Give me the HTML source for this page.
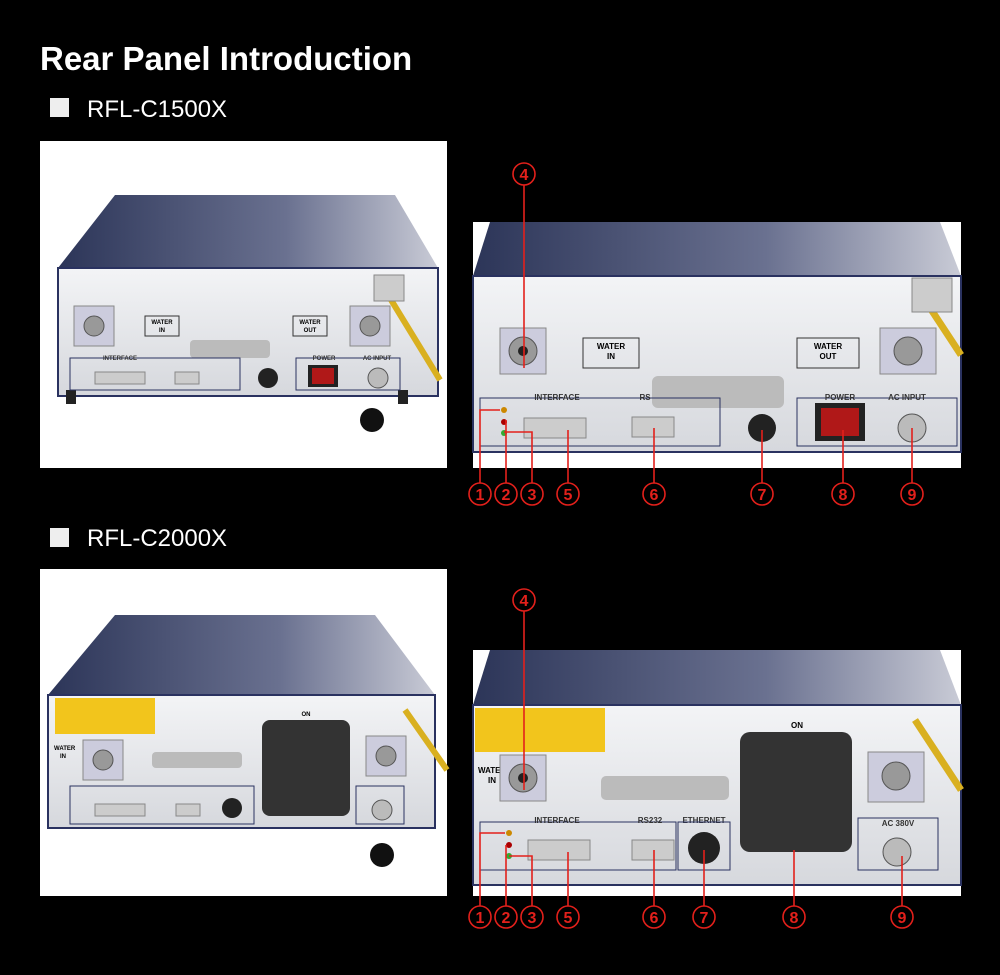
<!DOCTYPE html>
<html><head><meta charset="utf-8"><style>
body{margin:0;background:#000;width:1000px;height:975px;overflow:hidden;font-family:"Liberation Sans",sans-serif}
svg{position:absolute;left:0;top:0}
</style></head><body>
<svg width="1000" height="975" viewBox="0 0 1000 975" font-family="Liberation Sans, sans-serif">
<defs>
<linearGradient id="top" x1="0" y1="0" x2="1" y2="0"><stop offset="0" stop-color="#2c3558"/><stop offset="0.6" stop-color="#6a7190"/><stop offset="1" stop-color="#c9cbd6"/></linearGradient>
<linearGradient id="face" x1="0" y1="0" x2="0" y2="1"><stop offset="0" stop-color="#f3f4f6"/><stop offset="1" stop-color="#d6d8dd"/></linearGradient>
</defs>
<text x="40" y="70" fill="#fff" font-size="33" font-weight="bold">Rear Panel Introduction</text>
<rect x="50" y="98" width="19" height="19" fill="#eee"/>
<text x="87" y="117" fill="#fff" font-size="24">RFL-C1500X</text>
<rect x="50" y="528" width="19" height="19" fill="#eee"/>
<text x="87" y="546" fill="#fff" font-size="24">RFL-C2000X</text>

<!-- image 1 -->
<rect x="40" y="141" width="407" height="327" fill="#fff"/>
<polygon points="115,195 395,195 438,268 58,268" fill="url(#top)"/>
<rect x="58" y="268" width="380" height="128" fill="url(#face)" stroke="#2a3260" stroke-width="2"/>
<rect x="66" y="390" width="10" height="14" fill="#222"/><rect x="398" y="390" width="10" height="14" fill="#222"/>
<rect x="74" y="306" width="40" height="40" fill="#ccd" stroke="#888"/><circle cx="94" cy="326" r="10" fill="#999" stroke="#555"/>
<rect x="350" y="306" width="40" height="40" fill="#ccd" stroke="#888"/><circle cx="370" cy="326" r="10" fill="#999" stroke="#555"/>
<rect x="145" y="316" width="34" height="20" fill="none" stroke="#333"/><text x="162" y="324" font-size="6" text-anchor="middle" font-weight="bold">WATER</text><text x="162" y="332" font-size="6" text-anchor="middle" font-weight="bold">IN</text>
<rect x="293" y="316" width="34" height="20" fill="none" stroke="#333"/><text x="310" y="324" font-size="6" text-anchor="middle" font-weight="bold">WATER</text><text x="310" y="332" font-size="6" text-anchor="middle" font-weight="bold">OUT</text>
<rect x="190" y="340" width="80" height="18" rx="4" fill="#bbb"/>
<rect x="70" y="358" width="170" height="32" fill="none" stroke="#2a3260"/>
<text x="120" y="360" font-size="6" font-weight="bold" fill="#333" text-anchor="middle">INTERFACE</text>
<rect x="95" y="372" width="50" height="12" fill="#ccc" stroke="#888"/><rect x="175" y="372" width="24" height="12" fill="#ccc" stroke="#888"/>
<circle cx="268" cy="378" r="10" fill="#222"/>
<rect x="296" y="358" width="104" height="32" fill="none" stroke="#2a3260"/>
<text x="324" y="360" font-size="6" font-weight="bold" fill="#333" text-anchor="middle">POWER</text>
<text x="377" y="360" font-size="6" font-weight="bold" fill="#333" text-anchor="middle">AC INPUT</text>
<rect x="308" y="365" width="30" height="22" fill="#222"/><rect x="312" y="368" width="22" height="16" fill="#b01818"/>
<circle cx="378" cy="378" r="10" fill="#bbb" stroke="#555"/>
<line x1="385" y1="290" x2="440" y2="380" stroke="#d9b020" stroke-width="6"/>
<circle cx="372" cy="420" r="12" fill="#111"/>
<rect x="374" y="275" width="30" height="26" fill="#ccc" stroke="#888"/>

<!-- image 2 -->
<rect x="473" y="222" width="488" height="246" fill="#fff"/>
<polygon points="490,222 940,222 961,276 473,276" fill="url(#top)"/>
<rect x="473" y="276" width="488" height="176" fill="url(#face)" stroke="#2a3260" stroke-width="2"/>
<rect x="500" y="328" width="46" height="46" fill="#ccd" stroke="#888"/><circle cx="523" cy="351" r="14" fill="#999" stroke="#555"/><circle cx="523" cy="351" r="5" fill="#222"/>
<rect x="880" y="328" width="56" height="46" fill="#ccd" stroke="#888"/><circle cx="908" cy="351" r="14" fill="#999" stroke="#555"/>
<rect x="583" y="338" width="56" height="30" fill="none" stroke="#333"/><text x="611" y="349" font-size="8" text-anchor="middle" font-weight="bold">WATER</text><text x="611" y="359" font-size="8" text-anchor="middle" font-weight="bold">IN</text>
<rect x="797" y="338" width="62" height="30" fill="none" stroke="#333"/><text x="828" y="349" font-size="8" text-anchor="middle" font-weight="bold">WATER</text><text x="828" y="359" font-size="8" text-anchor="middle" font-weight="bold">OUT</text>
<rect x="652" y="376" width="132" height="32" rx="6" fill="#bbb"/>
<rect x="480" y="398" width="240" height="48" fill="none" stroke="#2a3260"/>
<text x="557" y="400" font-size="8" text-anchor="middle" font-weight="bold" fill="#333">INTERFACE</text>
<text x="645" y="400" font-size="8" text-anchor="middle" font-weight="bold" fill="#333">RS</text>
<circle cx="504" cy="410" r="3" fill="#c80"/><circle cx="504" cy="422" r="3" fill="#a00"/><circle cx="504" cy="433" r="3" fill="#3a3"/>
<rect x="524" y="418" width="62" height="20" fill="#ccc" stroke="#888"/><rect x="632" y="417" width="42" height="20" fill="#ccc" stroke="#888"/>
<circle cx="762" cy="428" r="14" fill="#222"/>
<rect x="797" y="398" width="160" height="48" fill="none" stroke="#2a3260"/>
<text x="840" y="400" font-size="8" text-anchor="middle" font-weight="bold" fill="#333">POWER</text>
<text x="907" y="400" font-size="8" text-anchor="middle" font-weight="bold" fill="#333">AC INPUT</text>
<rect x="815" y="403" width="50" height="38" fill="#222"/><rect x="821" y="408" width="38" height="28" fill="#b01818"/>
<circle cx="912" cy="428" r="14" fill="#bbb" stroke="#555"/>
<line x1="915" y1="285" x2="961" y2="355" stroke="#d9b020" stroke-width="7"/>
<rect x="912" y="278" width="40" height="34" fill="#ccc" stroke="#888"/>

<!-- image 3 -->
<rect x="40" y="569" width="407" height="327" fill="#fff"/>
<polygon points="115,615 375,615 435,695 48,695" fill="url(#top)"/>
<rect x="48" y="695" width="387" height="133" fill="url(#face)" stroke="#2a3260" stroke-width="2"/>
<rect x="55" y="698" width="100" height="36" fill="#f2c51c"/>
<text x="306" y="716" font-size="6" font-weight="bold" text-anchor="middle">ON</text>
<rect x="262" y="720" width="88" height="96" rx="8" fill="#333"/>
<text x="54" y="750" font-size="6" font-weight="bold">WATER</text><text x="60" y="758" font-size="6" font-weight="bold">IN</text>
<rect x="83" y="740" width="40" height="40" fill="#ccd" stroke="#888"/><circle cx="103" cy="760" r="10" fill="#999" stroke="#555"/>
<rect x="366" y="736" width="40" height="40" fill="#ccd" stroke="#888"/><circle cx="386" cy="756" r="10" fill="#999" stroke="#555"/>
<rect x="152" y="752" width="90" height="16" rx="4" fill="#bbb"/>
<rect x="70" y="786" width="184" height="38" fill="none" stroke="#2a3260"/>
<rect x="95" y="804" width="50" height="12" fill="#ccc" stroke="#888"/><rect x="176" y="804" width="24" height="12" fill="#ccc" stroke="#888"/>
<circle cx="232" cy="808" r="10" fill="#222"/>
<rect x="356" y="786" width="48" height="38" fill="none" stroke="#2a3260"/>
<circle cx="382" cy="810" r="10" fill="#bbb" stroke="#555"/>
<circle cx="382" cy="855" r="12" fill="#111"/>
<line x1="405" y1="710" x2="447" y2="770" stroke="#d9b020" stroke-width="6"/>

<!-- image 4 -->
<rect x="473" y="650" width="488" height="246" fill="#fff"/>
<polygon points="490,650 940,650 961,705 473,705" fill="url(#top)"/>
<rect x="473" y="705" width="488" height="180" fill="url(#face)" stroke="#2a3260" stroke-width="2"/>
<rect x="475" y="708" width="130" height="44" fill="#f2c51c"/>
<text x="797" y="728" font-size="8" font-weight="bold" text-anchor="middle">ON</text>
<rect x="740" y="732" width="112" height="120" rx="10" fill="#333"/>
<text x="478" y="773" font-size="8" font-weight="bold">WATER</text><text x="488" y="783" font-size="8" font-weight="bold">IN</text>
<rect x="500" y="755" width="46" height="46" fill="#ccd" stroke="#888"/><circle cx="523" cy="778" r="14" fill="#999" stroke="#555"/><circle cx="523" cy="778" r="5" fill="#222"/>
<rect x="868" y="752" width="56" height="50" fill="#ccd" stroke="#888"/><circle cx="896" cy="776" r="14" fill="#999" stroke="#555"/>
<rect x="601" y="776" width="128" height="24" rx="5" fill="#bbb"/>
<rect x="480" y="822" width="196" height="48" fill="none" stroke="#2a3260"/>
<text x="557" y="823" font-size="8" text-anchor="middle" font-weight="bold" fill="#333">INTERFACE</text>
<text x="650" y="823" font-size="8" text-anchor="middle" font-weight="bold" fill="#333">RS232</text>
<text x="704" y="823" font-size="8" text-anchor="middle" font-weight="bold" fill="#333">ETHERNET</text>
<circle cx="509" cy="833" r="3" fill="#c80"/><circle cx="509" cy="845" r="3" fill="#a00"/><circle cx="509" cy="856" r="3" fill="#3a3"/>
<rect x="528" y="840" width="62" height="20" fill="#ccc" stroke="#888"/><rect x="632" y="840" width="42" height="20" fill="#ccc" stroke="#888"/>
<rect x="678" y="822" width="52" height="48" fill="none" stroke="#2a3260"/>
<circle cx="704" cy="848" r="16" fill="#222"/>
<rect x="858" y="818" width="80" height="52" fill="none" stroke="#2a3260"/>
<text x="898" y="826" font-size="8" text-anchor="middle" font-weight="bold" fill="#333">AC 380V</text>
<circle cx="897" cy="852" r="14" fill="#bbb" stroke="#555"/>
<line x1="915" y1="720" x2="961" y2="790" stroke="#d9b020" stroke-width="7"/>

<!-- callouts -->
<g stroke="#e3201b" stroke-width="1.6" fill="none">
<path d="M524,185 V368"/>
<path d="M480,483 V410 H500"/><path d="M506,483 V420"/><path d="M532,483 V432 H504"/><path d="M568,483 V430"/><path d="M654,483 V428"/><path d="M762,483 V430"/><path d="M843,483 V430"/><path d="M912,483 V428"/>
<circle cx="524" cy="174" r="11"/>
<circle cx="480" cy="494" r="11"/><circle cx="506" cy="494" r="11"/><circle cx="532" cy="494" r="11"/><circle cx="568" cy="494" r="11"/><circle cx="654" cy="494" r="11"/><circle cx="762" cy="494" r="11"/><circle cx="843" cy="494" r="11"/><circle cx="912" cy="494" r="11"/>
<path d="M524,611 V790"/>
<path d="M480,906 V833 H505"/><path d="M506,906 V845"/><path d="M532,906 V856 H509"/><path d="M568,906 V852"/><path d="M654,906 V850"/><path d="M704,906 V850"/><path d="M794,906 V850"/><path d="M902,906 V856"/>
<circle cx="524" cy="600" r="11"/>
<circle cx="480" cy="917" r="11"/><circle cx="506" cy="917" r="11"/><circle cx="532" cy="917" r="11"/><circle cx="568" cy="917" r="11"/><circle cx="654" cy="917" r="11"/><circle cx="704" cy="917" r="11"/><circle cx="794" cy="917" r="11"/><circle cx="902" cy="917" r="11"/>
</g>
<g fill="#e3201b" font-size="16" font-weight="bold" text-anchor="middle">
<text x="524" y="180">4</text>
<text x="480" y="500">1</text><text x="506" y="500">2</text><text x="532" y="500">3</text><text x="568" y="500">5</text><text x="654" y="500">6</text><text x="762" y="500">7</text><text x="843" y="500">8</text><text x="912" y="500">9</text>
<text x="524" y="606">4</text>
<text x="480" y="923">1</text><text x="506" y="923">2</text><text x="532" y="923">3</text><text x="568" y="923">5</text><text x="654" y="923">6</text><text x="704" y="923">7</text><text x="794" y="923">8</text><text x="902" y="923">9</text>
</g>
</svg>
</body></html>
